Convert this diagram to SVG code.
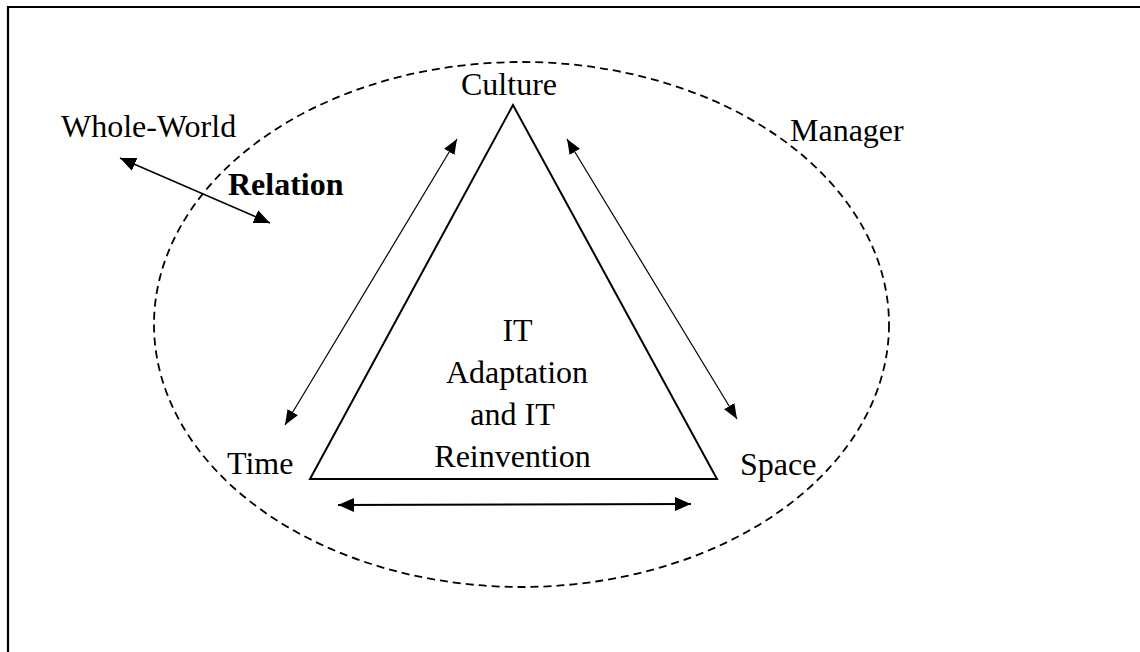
<svg xmlns="http://www.w3.org/2000/svg" width="1140" height="652" viewBox="0 0 1140 652">
<style>
text{font-family:"Liberation Serif","Times New Roman",serif;font-size:32px;fill:#000}
.b{font-weight:bold}
.m{text-anchor:middle}
.arr{stroke:#000;fill:none}
</style>
<defs>
<marker id="ah" markerUnits="userSpaceOnUse" markerWidth="18" markerHeight="15" refX="16" refY="7" orient="auto-start-reverse" viewBox="0 0 18 15">
<path d="M0,0 L16,7 L0,14 z" fill="#000"/>
</marker>
<marker id="ahs" markerUnits="userSpaceOnUse" markerWidth="16" markerHeight="13" refX="15" refY="6" orient="auto-start-reverse" viewBox="0 0 16 13">
<path d="M0,0 L15,6 L0,12 z" fill="#000"/>
</marker>
</defs>
<rect width="1140" height="652" fill="#fff"/>
<path d="M8,652 V7 H1140" fill="none" stroke="#000" stroke-width="2.2"/>
<g id="manager-boundary">
<ellipse cx="521.5" cy="324.5" rx="367.5" ry="262.5" fill="none" stroke="#000" stroke-width="1.8" stroke-dasharray="8,5"/>
<text x="790" y="141">Manager</text>
</g>
<g id="triangle">
<path d="M513,105 L310,479 L717,479 Z" fill="none" stroke="#000" stroke-width="2" stroke-linejoin="miter"/>
<text class="m" x="517.5" y="341">IT</text>
<text class="m" x="517" y="383">Adaptation</text>
<text class="m" x="512.5" y="425">and IT</text>
<text class="m" x="512.5" y="467">Reinvention</text>
</g>
<g id="culture"><text x="461" y="95">Culture</text></g>
<g id="time"><text x="227" y="474">Time</text></g>
<g id="space"><text x="740" y="475">Space</text></g>
<g id="whole-world"><text x="61" y="137">Whole-World</text></g>
<g id="relation"><text class="b" x="228" y="195">Relation</text></g>
<g id="connectors">
<line class="arr" x1="120" y1="158" x2="270" y2="223" stroke-width="1.5" marker-start="url(#ah)" marker-end="url(#ah)"/>
<line class="arr" x1="457" y1="139" x2="285" y2="425" stroke-width="1.2" marker-start="url(#ahs)" marker-end="url(#ahs)"/>
<line class="arr" x1="567" y1="139" x2="737" y2="419" stroke-width="1.2" marker-start="url(#ahs)" marker-end="url(#ahs)"/>
<line class="arr" x1="338" y1="505" x2="691" y2="504" stroke-width="2" marker-start="url(#ah)" marker-end="url(#ah)"/>
</g>
</svg>
